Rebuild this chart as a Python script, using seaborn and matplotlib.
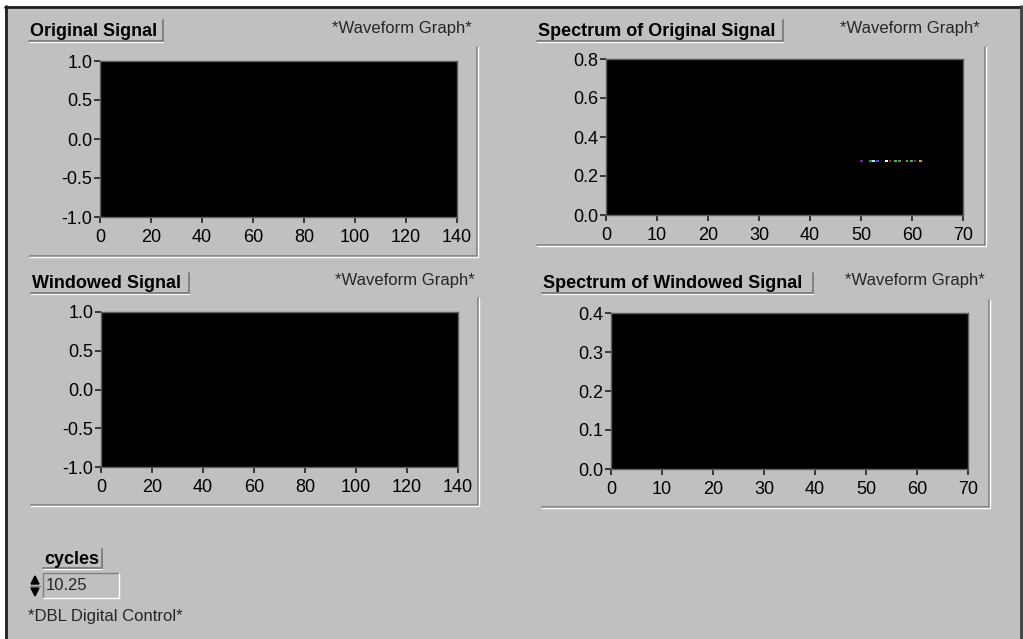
import matplotlib
matplotlib.use("Agg")
import matplotlib.pyplot as plt
import pandas as pd
import numpy as np
import seaborn as sns
from matplotlib.lines import Line2D
from matplotlib.patches import Rectangle, Polygon

# data
signal_x_ticks = [0, 20, 40, 60, 80, 100, 120, 140]
signal_y_ticks = [-1.0, -0.5, 0.0, 0.5, 1.0]
spec_x_ticks = [0, 10, 20, 30, 40, 50, 60, 70]
orig_spec_y_ticks = [0.0, 0.2, 0.4, 0.6, 0.8]
win_spec_y_ticks = [0.0, 0.1, 0.2, 0.3, 0.4]

# the signal graphs are empty in the screenshot
original_x = []
original_y = []
windowed_x = []
windowed_y = []
windowed_spec_x = []
windowed_spec_y = []

# the few coloured pixels in the original spectrum
orig_spec_x = [50.1, 51.8, 52.5, 53.2, 55.0, 55.7, 56.7, 57.6, 59.0, 59.9, 60.6, 61.7]
orig_spec_y = [0.277] * 12
orig_spec_col = ["#8020c0", "#20a040", "#c0e0ff", "#3050ff", "#e0ffff", "#c02020",
                 "#40c040", "#30b030", "#60a060", "#30c030", "#a020a0", "#c0a030"]

cycles = "10.25"

W, H = 1023, 639
BG = "#c0c0c0"

sns.set_style("white")
plt.rcParams['font.family'] = ['Liberation Sans', 'DejaVu Sans']
plt.rcParams['axes.unicode_minus'] = False

fig = plt.figure(figsize=(W / 100, H / 100), dpi=100)
fig.patch.set_facecolor(BG)


def fx(x):
    return x / W


def fy(y):
    return 1 - y / H


def hline(x0, x1, y, c, lw=1.0):
    fig.add_artist(Line2D([fx(x0), fx(x1)], [fy(y), fy(y)], color=c, lw=lw))


def vline(x, y0, y1, c, lw=1.0):
    fig.add_artist(Line2D([fx(x), fx(x)], [fy(y0), fy(y1)], color=c, lw=lw))


def label_box(x0, y0, x1, y1, text):
    hline(x0, x1, y1, "#808080", 1.4)
    vline(x1, y0, y1, "#808080", 1.4)
    hline(x0, x1, y1 + 1.2, "white", 0.8)
    fig.text(fx(x0 + 1), fy((y0 + y1) / 2 + 1), text, fontsize=13, fontweight="bold",
             va="center", ha="left", color="black")


def graph(x0, y0, x1, y1, xs, ys, xticks, yticks, colors=None):
    ax = fig.add_axes([fx(x0), fy(y1), fx(x1 - x0), (y1 - y0) / H])
    ax.set_facecolor("black")
    if len(xs):
        df = pd.DataFrame({"x": xs, "y": ys})
        sns.scatterplot(data=df, x="x", y="y", ax=ax, c=colors, s=4, marker="s",
                        linewidth=0, legend=False)
    ax.set_xlim(xticks[0], xticks[-1])
    ax.set_ylim(yticks[0], yticks[-1])
    ax.set_xticks(xticks)
    ax.set_yticks(yticks)
    ax.set_yticklabels([f"{v:.1f}" for v in yticks])
    ax.set_xlabel("")
    ax.set_ylabel("")
    for s in ax.spines.values():
        s.set_color("#606060")
        s.set_linewidth(1.0)
    ax.tick_params(axis="both", direction="out", length=4.5, width=1.2, colors="#202020",
                   labelsize=13, labelcolor="black", bottom=True, left=True)
    ax.tick_params(axis="y", pad=1)
    ax.tick_params(axis="x", pad=4)
    return ax


# panel frames (etched right / bottom edges)
def frame(x0, xr, ytop, ybot):
    vline(xr, ytop, ybot, "#808080", 1.2)
    vline(xr + 1.3, ytop, ybot, "white", 1.0)
    hline(x0, xr, ybot, "#808080", 1.2)
    hline(x0, xr + 1.3, ybot + 1.3, "white", 1.0)


frame(30, 477, 47, 256)
frame(537, 985, 47, 245)
frame(31, 478, 298, 505)
frame(542, 989, 300, 507)

graph(100, 61, 457, 217, original_x, original_y, signal_x_ticks, signal_y_ticks)
graph(606, 59, 963, 215, orig_spec_x, orig_spec_y, spec_x_ticks, orig_spec_y_ticks,
      colors=orig_spec_col)
graph(101, 312, 458, 467, windowed_x, windowed_y, signal_x_ticks, signal_y_ticks)
graph(611, 313, 968, 469, windowed_spec_x, windowed_spec_y, spec_x_ticks, win_spec_y_ticks)

label_box(29, 20, 163, 41, "Original Signal")
label_box(537, 20, 783, 41, "Spectrum of Original Signal")
label_box(31, 273, 189, 293, "Windowed Signal")
label_box(542, 273, 813, 293, "Spectrum of Windowed Signal")

for x, y in [(332, 28), (840, 28), (335, 280), (845, 281)]:
    fig.text(fx(x), fy(y), "*Waveform Graph*", fontsize=12, va="center", ha="left")

# cycles numeric control
label_box(43, 549, 102, 568, "cycles")
hline(43, 119, 573, "#808080")
vline(43, 573, 598, "#808080")
hline(43, 119, 598, "white")
vline(119, 573, 598, "white")
fig.text(fx(46), fy(586), cycles, fontsize=12, va="center", ha="left")
fig.add_artist(Polygon([[fx(31), fy(584)], [fx(39), fy(584)], [fx(35), fy(576)]],
                       closed=True, color="black"))
fig.add_artist(Polygon([[fx(31), fy(588)], [fx(39), fy(588)], [fx(35), fy(596)]],
                       closed=True, color="black"))
hline(30, 40, 586, "#808080")
fig.text(fx(28), fy(617), "*DBL Digital Control*", fontsize=12, va="center", ha="left")

# window border
fig.add_artist(Rectangle((0, fy(6)), 1, 1 - fy(6), color="white", lw=0))
fig.add_artist(Rectangle((0, 0), fx(5), 1, color="white", lw=0))
hline(5, 1021, 6.5, "#202020", 2)
vline(5.5, 6, H, "#202020", 2)
vline(1021, 6, H, "#404040", 2)

fig.savefig("out.png", dpi=100, facecolor=BG)
